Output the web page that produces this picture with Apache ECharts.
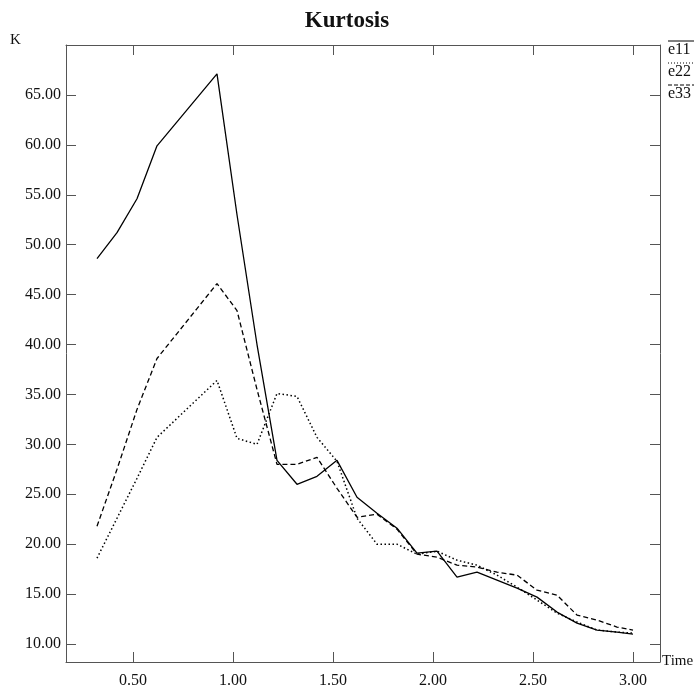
<!DOCTYPE html>
<html>
<head>
<meta charset="utf-8">
<script src="https://cdn.jsdelivr.net/npm/echarts@6/dist/echarts.min.js"></script>
<style>
  html, body { margin: 0; padding: 0; background: #fff; }
  #chart { width: 694px; height: 690px; }
</style>
</head>
<body>
<div id="chart"></div>
<script>
const times = [0.32, 0.42, 0.52, 0.62, 0.72, 0.82, 0.92, 1.02, 1.12, 1.22, 1.32, 1.42, 1.52, 1.62,
  1.72, 1.82, 1.92, 2.02, 2.12, 2.22, 2.32, 2.42, 2.52, 2.62, 2.72, 2.82, 2.92, 3.00];
const e11 = [48.6, 51.2, 54.6, 59.9, 62.3, 64.7, 67.1, 53.0, 40.0, 28.4, 26.0, 26.8, 28.4, 24.7,
  23.1, 21.6, 19.1, 19.3, 16.7, 17.2, 16.4, 15.6, 14.7, 13.2, 12.1, 11.4, 11.2, 11.0];
const e22 = [18.6, 22.6, 26.6, 30.7, 32.6, 34.5, 36.4, 30.6, 30.0, 35.1, 34.8, 30.7, 28.3, 22.6,
  20.0, 20.0, 19.0, 19.3, 18.4, 17.9, 16.9, 15.7, 14.4, 13.1, 12.2, 11.4, 11.2, 11.1];
const e33 = [21.8, 27.5, 33.5, 38.6, 41.1, 43.6, 46.1, 43.4, 35.5, 28.0, 28.0, 28.7, 25.6, 22.7,
  23.0, 21.5, 19.0, 18.7, 17.9, 17.7, 17.2, 16.9, 15.4, 14.9, 12.9, 12.4, 11.7, 11.4];
const xTicks = [0.5, 1.0, 1.5, 2.0, 2.5, 3.0];
const yTicks = [10, 15, 20, 25, 30, 35, 40, 45, 50, 55, 60, 65];
const seriesNames = ['e11', 'e22', 'e33'];

const font = 'Liberation Serif';
const ink = '#111';
const frame = '#555';

function pairs(ys) {
  return times.map((t, i) => [t, ys[i]]);
}

function xAxisOf(pos, labels) {
  return {
    type: 'value', position: pos, min: 0.165, max: 3.135,
    axisLine: { show: true, onZero: false, lineStyle: { color: frame, width: 1 } },
    axisTick: { show: true, inside: true, length: 10, customValues: xTicks, lineStyle: { color: frame } },
    axisLabel: { show: labels, customValues: xTicks, margin: 11, color: ink, fontFamily: font, fontSize: 16,
      formatter: v => v.toFixed(2) },
    splitLine: { show: false }
  };
}

function yAxisOf(pos, labels) {
  return {
    type: 'value', position: pos, min: 8.2, max: 70,
    axisLine: { show: true, onZero: false, lineStyle: { color: frame, width: 1 } },
    axisTick: { show: true, inside: true, length: 10, customValues: yTicks, lineStyle: { color: frame } },
    axisLabel: { show: labels, customValues: yTicks, margin: 5, color: ink, fontFamily: font, fontSize: 16,
      formatter: v => v.toFixed(2) },
    splitLine: { show: false }
  };
}

// solid / dotted / dashed, like the print
const lineTypes = ['solid', [1.5, 2.5], [5, 3]];
const data = [e11, e22, e33];

const chart = echarts.init(document.getElementById('chart'), null, { renderer: 'canvas' });
chart.setOption({
  backgroundColor: '#fff',
  animation: false,
  title: {
    text: 'Kurtosis', left: 'center', top: 5,
    textStyle: { fontFamily: font, fontSize: 23, fontWeight: 'bold', color: ink }
  },
  grid: { left: 66, right: 34, top: 45, bottom: 28 },
  xAxis: [xAxisOf('bottom', true), xAxisOf('top', false)],
  yAxis: [yAxisOf('left', true), yAxisOf('right', false)],
  series: seriesNames.map((name, i) => ({
    name, type: 'line', data: pairs(data[i]), showSymbol: false, symbol: 'none',
    lineStyle: { color: '#000', width: i === 1 ? 1.5 : 1.3, type: lineTypes[i] }
  })),
  graphic: [
    { type: 'text', left: 10, top: 33, style: { text: 'K', fontFamily: font, fontSize: 15, fill: ink } },
    { type: 'text', left: 662, top: 654, style: { text: 'Time', fontFamily: font, fontSize: 15, fill: ink } },
    ...seriesNames.flatMap((name, i) => [
      { type: 'line', shape: { x1: 668, y1: 41 + i * 22, x2: 694, y2: 41 + i * 22 },
        style: { stroke: '#000', lineWidth: 1, lineDash: i === 1 ? [1, 2] : (i === 2 ? [4, 2] : null) } },
      { type: 'text', left: 668, top: 42 + i * 22, style: { text: name, fontFamily: font, fontSize: 16, fill: ink } }
    ])
  ]
});
</script>
</body>
</html>
